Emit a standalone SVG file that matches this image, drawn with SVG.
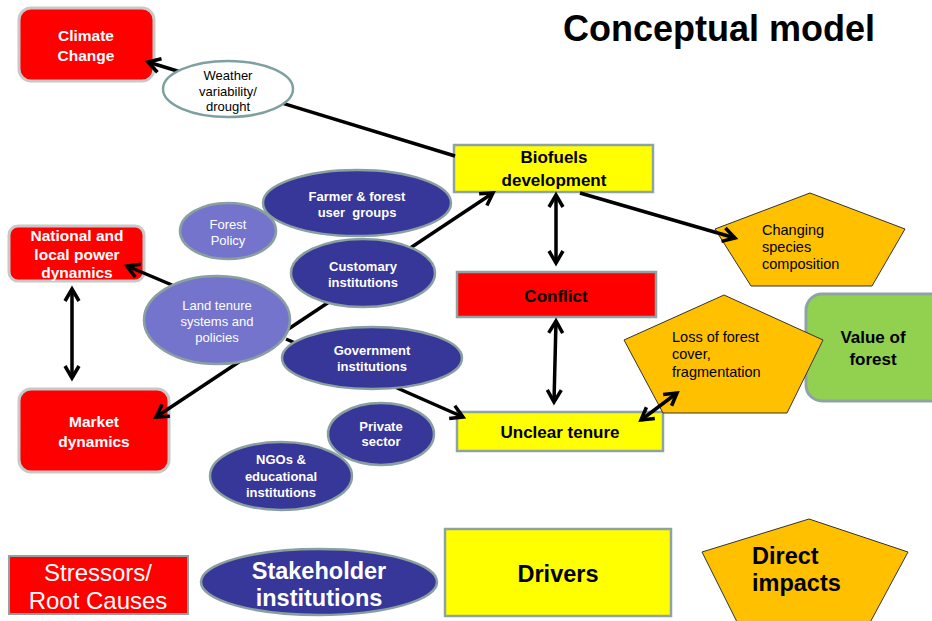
<svg xmlns="http://www.w3.org/2000/svg" width="932" height="621" viewBox="0 0 932 621">
<defs>
<marker id="ah" viewBox="-16 -10 20 20" refX="0" refY="0" markerWidth="20" markerHeight="20" markerUnits="userSpaceOnUse" orient="auto-start-reverse">
<path d="M-12,-7 L0,0 L-12,7" fill="none" stroke="#000" stroke-width="3.5" stroke-linejoin="miter"/>
</marker>
<style>
text{font-family:"Liberation Sans",Arial,sans-serif;text-anchor:middle}
.b{font-weight:bold}
.w{fill:#fff}
.red{fill:#ff0000}
.redl{fill:#ff0000;stroke:#c8c8c8;stroke-width:3}
.yel{fill:#ffff00;stroke:#8fa3a5;stroke-width:2.5}
.pent{fill:#ffc000;stroke:#333;stroke-width:1}
.dk{fill:#373699;stroke:#8aa0a0;stroke-width:2.5}
.lt{fill:#7474cc;stroke:#8aa0a0;stroke-width:2.5}
.con{fill:none;stroke:#000;stroke-width:3.5}
</style>
</defs>
<rect width="932" height="621" fill="#fff"/>
<text x="719" y="41" class="b" style="font-size:36px">Conceptual model</text>

<g id="climate"><rect x="19" y="8" width="135" height="73" rx="12" class="redl"/>
<text x="86" y="41" class="b w" style="font-size:15.5px">Climate</text><text x="86" y="61" class="b w" style="font-size:15.5px">Change</text></g>
<g id="national"><rect x="9" y="226" width="135" height="55" rx="9" class="redl"/>
<text x="77" y="241" class="b w" style="font-size:15.5px">National and</text><text x="77" y="260" class="b w" style="font-size:15.5px">local power</text><text x="77" y="278" class="b w" style="font-size:15.5px">dynamics</text></g>
<g id="market"><rect x="19" y="389" width="150" height="83" rx="12" class="redl"/>
<text x="94" y="427" class="b w" style="font-size:15.5px">Market</text><text x="94" y="447" class="b w" style="font-size:15.5px">dynamics</text></g>
<g id="biofuels"><rect x="454" y="145" width="199" height="47" class="yel"/>
<text x="554" y="163" class="b" style="font-size:17px">Biofuels</text><text x="554" y="186" class="b" style="font-size:17px">development</text></g>
<g id="conflict"><rect x="457" y="272" width="199" height="45" class="red" stroke="#8fa3a5" stroke-width="2.5"/>
<text x="556" y="302" class="b" style="font-size:17px">Conflict</text></g>
<g id="unclear"><rect x="457" y="412" width="206" height="39" class="yel"/>
<text x="560" y="438" class="b" style="font-size:17px">Unclear tenure</text></g>
<g id="changing"><polygon points="810,193 905,229 872,286 751,286 715,229" class="pent"/>
<text x="762" y="235" style="font-size:14.5px;text-anchor:start">Changing</text><text x="762" y="252" style="font-size:14.5px;text-anchor:start">species</text><text x="762" y="269" style="font-size:14.5px;text-anchor:start">composition</text></g>
<g id="value"><rect x="806" y="294" width="140" height="107" rx="16" fill="#92d050" stroke="#8fa3a5" stroke-width="3"/>
<text x="873" y="343" class="b" style="font-size:17px">Value of</text><text x="873" y="365" class="b" style="font-size:17px">forest</text></g>
<g id="loss"><polygon points="724,295 823,340 787,413 663,413 624,340" class="pent"/>
<text x="672" y="342" style="font-size:14.5px;text-anchor:start">Loss of forest</text><text x="672" y="359" style="font-size:14.5px;text-anchor:start">cover,</text><text x="672" y="377" style="font-size:14.5px;text-anchor:start">fragmentation</text></g>

<g id="connectors">
<line x1="455" y1="156" x2="148" y2="62" class="con" marker-end="url(#ah)"/>
<line x1="580" y1="193" x2="735" y2="238" class="con" marker-end="url(#ah)"/>
<line x1="556" y1="195" x2="556" y2="263" class="con" marker-start="url(#ah)" marker-end="url(#ah)"/>
<line x1="556" y1="321" x2="554" y2="402" class="con" marker-start="url(#ah)" marker-end="url(#ah)"/>
<line x1="641" y1="420" x2="677" y2="393" class="con" marker-start="url(#ah)" marker-end="url(#ah)"/>
<line x1="72" y1="289" x2="72" y2="378" class="con" marker-start="url(#ah)" marker-end="url(#ah)"/>
<line x1="156" y1="417" x2="493" y2="193" class="con" marker-start="url(#ah)" marker-end="url(#ah)"/>
<line x1="172" y1="285" x2="127" y2="266" class="con" marker-end="url(#ah)"/>
<line x1="286" y1="339" x2="463" y2="417" class="con" marker-end="url(#ah)"/>
</g>

<g id="weather"><ellipse cx="228" cy="89" rx="65" ry="28" fill="#fff" stroke="#7fa0a0" stroke-width="2.5"/>
<text x="228" y="80" style="font-size:13px">Weather</text><text x="228" y="95.5" style="font-size:13px">variability/</text><text x="228" y="111" style="font-size:13px">drought</text></g>
<g id="forestpolicy"><ellipse cx="228" cy="231" rx="48" ry="28" class="lt"/>
<text x="228" y="229" class="w" style="font-size:13px">Forest</text><text x="228" y="245" class="w" style="font-size:13px">Policy</text></g>
<g id="farmer"><ellipse cx="357" cy="203" rx="94" ry="33" class="dk"/>
<text x="357" y="201" class="b w" style="font-size:13px">Farmer &amp; forest</text><text x="357" y="217" class="b w" style="font-size:13px" xml:space="preserve">user  groups</text></g>
<g id="customary"><ellipse cx="363" cy="273" rx="72" ry="34" class="dk"/>
<text x="363" y="271" class="b w" style="font-size:13px">Customary</text><text x="363" y="287" class="b w" style="font-size:13px">institutions</text></g>
<g id="landtenure"><ellipse cx="217" cy="320" rx="73" ry="44" class="lt"/>
<text x="217" y="310" class="w" style="font-size:13px">Land tenure</text><text x="217" y="326" class="w" style="font-size:13px">systems and</text><text x="217" y="342" class="w" style="font-size:13px">policies</text></g>
<g id="government"><ellipse cx="372" cy="358" rx="90" ry="31" class="dk"/>
<text x="372" y="355" class="b w" style="font-size:13px">Government</text><text x="372" y="371" class="b w" style="font-size:13px">institutions</text></g>
<g id="private"><ellipse cx="381" cy="434" rx="53" ry="31" class="dk"/>
<text x="381" y="431" class="b w" style="font-size:13px">Private</text><text x="381" y="446" class="b w" style="font-size:13px">sector</text></g>
<g id="ngos"><ellipse cx="281" cy="476" rx="71" ry="34" class="dk"/>
<text x="281" y="464" class="b w" style="font-size:13px">NGOs &amp;</text><text x="281" y="481" class="b w" style="font-size:13px">educational</text><text x="281" y="497" class="b w" style="font-size:13px">institutions</text></g>

<g id="legend-stressors"><rect x="9" y="556" width="179" height="58" class="red" stroke="#8fa3a5" stroke-width="2"/>
<text x="98" y="581" class="w" style="font-size:24px">Stressors/</text><text x="98" y="609" class="w" style="font-size:24px">Root Causes</text></g>
<g id="legend-stakeholder"><ellipse cx="319" cy="582" rx="118" ry="33" class="dk"/>
<text x="319" y="579" class="b w" style="font-size:23.5px">Stakeholder</text><text x="319" y="606" class="b w" style="font-size:23.5px">institutions</text></g>
<g id="legend-drivers"><rect x="445" y="529" width="226" height="87" class="yel"/>
<text x="558" y="582" class="b" style="font-size:23.5px">Drivers</text></g>
<g id="legend-impacts"><polygon points="809,519 908,552 866,630 741,630 702,552" class="pent"/>
<text x="752" y="564" class="b" style="font-size:23.5px;text-anchor:start">Direct</text><text x="752" y="591" class="b" style="font-size:23.5px;text-anchor:start">impacts</text></g>
</svg>
